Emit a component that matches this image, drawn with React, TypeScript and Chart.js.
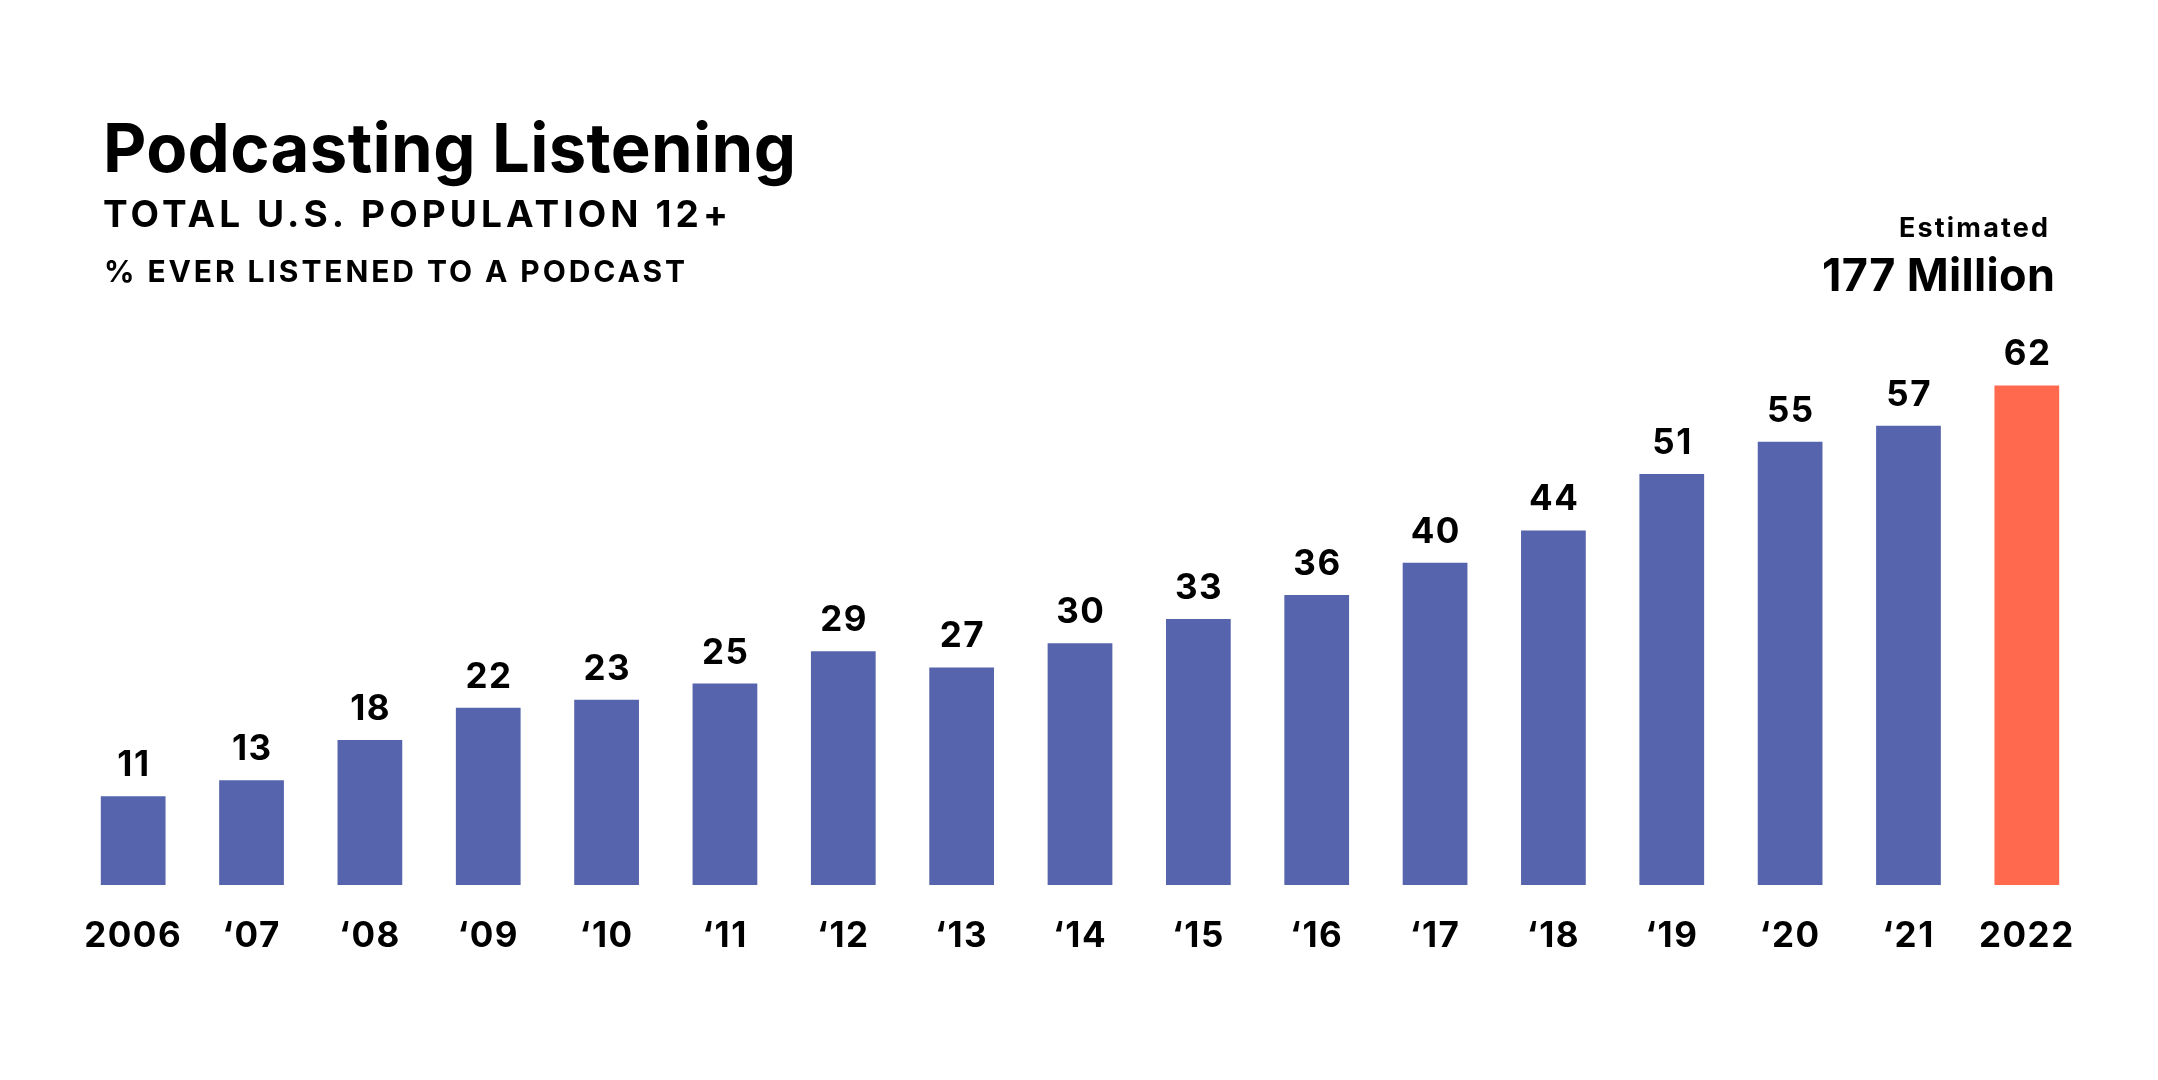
import React, { useEffect, useRef } from "react";
import { Chart, registerables } from "chart.js";

Chart.register(...registerables);

// Survey years (abbreviated between the first and last year)
const years = [
  "2006", "\u201807", "\u201808", "\u201809", "\u201810", "\u201811", "\u201812", "\u201813", "\u201814",
  "\u201815", "\u201816", "\u201817", "\u201818", "\u201819", "\u201820", "\u201821", "2022",
];

// % of the U.S. population 12+ that has ever listened to a podcast
const listenedPct = [11, 13, 18, 22, 23, 25, 29, 27, 30, 33, 36, 40, 44, 51, 55, 57, 62];

const titleText = "Podcasting Listening";
const subtitleText = "TOTAL U.S. POPULATION 12+";
const measureText = "% EVER LISTENED TO A PODCAST";
const estimateCaption = "Estimated";
const estimateValue = "177 Million";

const BLUE = "#5664AE";
const CORAL = "#FF6A4F";
const INK = "#000000";
const FONT = "Inter, 'Noto Sans', sans-serif";
const NUMBER_TRACKING = 1.5;

// Draws text with letter spacing chosen so the run spans the given width.
function drawTracked(
  ctx: CanvasRenderingContext2D,
  text: string,
  x: number,
  y: number,
  font: string,
  width: number,
  align: "left" | "right"
) {
  ctx.font = font;
  (ctx as any).letterSpacing = "0px";
  const natural = ctx.measureText(text).width;
  const spacing = (width - natural) / Math.max(1, text.length - 1);
  (ctx as any).letterSpacing = `${spacing}px`;
  ctx.textAlign = "left";
  ctx.fillText(text, align === "right" ? x - width : x, y);
  (ctx as any).letterSpacing = "0px";
}

// Slightly open tracking for the axis year labels
const trackingPlugin = {
  id: "tickTracking",
  beforeDraw(chart: Chart) {
    (chart.ctx as any).letterSpacing = `${NUMBER_TRACKING}px`;
  },
  afterDraw(chart: Chart) {
    (chart.ctx as any).letterSpacing = "0px";
  },
};

const headingPlugin = {
  id: "headings",
  afterDraw(chart: Chart) {
    const ctx = chart.ctx;
    ctx.save();
    ctx.fillStyle = INK;
    ctx.textBaseline = "alphabetic";
    drawTracked(ctx, titleText, 103, 172, `bold 67px ${FONT}`, 693, "left");
    drawTracked(ctx, subtitleText, 103, 227, `bold 37px ${FONT}`, 625, "left");
    drawTracked(ctx, measureText, 104, 282, `bold 30px ${FONT}`, 581, "left");
    drawTracked(ctx, estimateCaption, 2048, 237, `bold 27px ${FONT}`, 149, "right");
    drawTracked(ctx, estimateValue, 2055, 291, `bold 45px ${FONT}`, 233, "right");
    ctx.restore();
  },
};

const valueLabelPlugin = {
  id: "valueLabels",
  afterDatasetsDraw(chart: Chart) {
    const ctx = chart.ctx;
    const meta = chart.getDatasetMeta(0);
    const values = chart.data.datasets[0].data as number[];
    ctx.save();
    ctx.fillStyle = INK;
    ctx.font = `bold 35px ${FONT}`;
    (ctx as any).letterSpacing = `${NUMBER_TRACKING}px`;
    ctx.textAlign = "center";
    ctx.textBaseline = "alphabetic";
    meta.data.forEach((bar: any, i: number) => {
      ctx.fillText(String(values[i]), bar.x + NUMBER_TRACKING / 2, bar.y - 20);
    });
    ctx.restore();
  },
};

export default function App() {
  const canvasRef = useRef<HTMLCanvasElement | null>(null);

  useEffect(() => {
    let chart: Chart | null = null;
    let cancelled = false;
    const build = () => {
      if (cancelled || !canvasRef.current) return;
      chart = new Chart(canvasRef.current, {
        type: "bar",
        data: {
          labels: years,
          datasets: [
            {
              data: listenedPct,
              backgroundColor: listenedPct.map((_, i) => (i === listenedPct.length - 1 ? CORAL : BLUE)),
              borderWidth: 0,
              barPercentage: 0.547,
              categoryPercentage: 1,
            },
          ],
        },
        options: {
          responsive: false,
          animation: false,
          layout: { padding: { left: 74, right: 72, top: 321, bottom: 93 } },
          plugins: {
            legend: { display: false },
            tooltip: { enabled: false },
          },
          scales: {
            x: {
              grid: { display: false, drawTicks: false },
              border: { display: false },
              ticks: {
                color: INK,
                font: { family: FONT, size: 35, weight: "bold" },
                padding: 30,
                maxRotation: 0,
                autoSkip: false,
              },
            },
            y: { display: false, min: 0, max: 70 },
          },
        },
        plugins: [trackingPlugin, valueLabelPlugin, headingPlugin],
      });
    };
    const fontsReady = (document as any).fonts
      ? Promise.all([
          (document as any).fonts.load(`bold 35px Inter`),
          (document as any).fonts.load(`bold 67px Inter`),
        ]).catch(() => undefined)
      : Promise.resolve();
    fontsReady.then(build);
    return () => {
      cancelled = true;
      if (chart) chart.destroy();
    };
  }, []);

  return (
    <div style={{ position: "absolute", left: 0, top: 0, width: 2158, height: 1080, background: "#ffffff" }}>
      <canvas ref={canvasRef} width={2158} height={1080} style={{ display: "block" }} />
    </div>
  );
}
